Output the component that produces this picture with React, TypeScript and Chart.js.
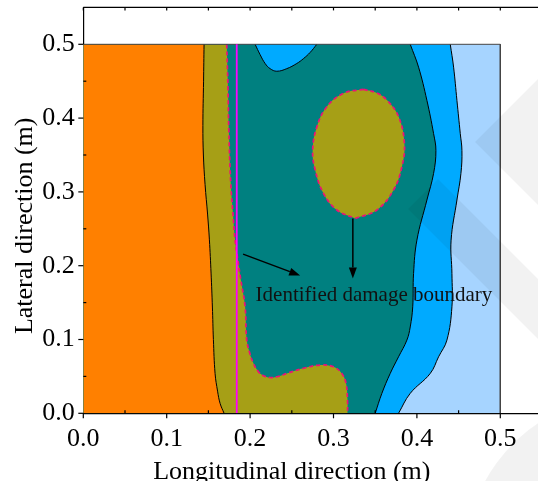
import React, { useEffect, useRef } from 'react';
import { Chart, registerables } from 'chart.js';

Chart.register(...registerables);

// ---------- data (x, y) in metres ----------
const AXIS_MAX = 0.55;
const X_TICKS = [0, 0.05, 0.1, 0.15, 0.2, 0.25, 0.3, 0.35, 0.4, 0.45, 0.5];
const Y_TICKS = [0, 0.05, 0.1, 0.15, 0.2, 0.25, 0.3, 0.35, 0.4, 0.45, 0.5];
const MAJOR_LABELS = ['0.0', '0.1', '0.2', '0.3', '0.4', '0.5'];

const X_TITLE = 'Longitudinal direction (m)';
const Y_TITLE = 'Lateral direction (m)';
const NOTE_TEXT = 'Identified damage boundary';
const NOTE_AT: [number, number] = [0.3485, 0.152];
const ARROWS: [number, number][][] = [
  [[0.1916, 0.2157], [0.26, 0.1867]],
  [[0.3232, 0.264], [0.3232, 0.1828]],
];

// plate outline (top and right edges)
const PLATE_EDGE: [number, number][] = [[0, 0.5], [0.5, 0.5], [0.5, 0]];

// orange / olive contour (top -> bottom)
const ORANGE_EDGE: [number, number][] = [
  [0.1448, 0.5], [0.1442, 0.45], [0.1434, 0.39], [0.144, 0.35], [0.146, 0.31],
  [0.149, 0.27], [0.1512, 0.235], [0.1532, 0.19], [0.1548, 0.144], [0.156, 0.1],
  [0.158, 0.054], [0.161, 0.03], [0.164, 0.0135], [0.1688, 0],
];

// identified damage boundary: olive / teal (top -> bottom)
const OLIVE_EDGE: [number, number][] = [
  [0.172, 0.5], [0.1735, 0.44], [0.1745, 0.3835], [0.1768, 0.312], [0.1795, 0.27],
  [0.182, 0.2346], [0.1856, 0.2057], [0.189, 0.18], [0.194, 0.1443], [0.196, 0.0993],
  [0.2, 0.08], [0.204, 0.0677], [0.21, 0.0563], [0.216, 0.051], [0.224, 0.0485],
  [0.234, 0.05], [0.244, 0.054], [0.264, 0.061], [0.284, 0.0654], [0.3, 0.063],
  [0.31, 0.054], [0.315, 0.0406], [0.3168, 0.018], [0.3168, 0],
];

// teal / bright blue contour (top -> bottom)
const TEAL_EDGE: [number, number][] = [
  [0.392, 0.5], [0.402, 0.469], [0.412, 0.424], [0.42, 0.379], [0.4228, 0.356],
  [0.42, 0.325], [0.412, 0.289], [0.4, 0.2346], [0.396, 0.1895], [0.395, 0.1443],
  [0.392, 0.117], [0.388, 0.0992], [0.378, 0.0766], [0.368, 0.054], [0.358, 0.027],
  [0.35, 0],
];

// bright blue / light blue contour (top -> bottom)
const BRIGHT_EDGE: [number, number][] = [
  [0.44, 0.5], [0.444, 0.469], [0.448, 0.424], [0.452, 0.379], [0.454, 0.356],
  [0.4528, 0.325], [0.448, 0.289], [0.441, 0.2346], [0.442, 0.1895], [0.442, 0.1443],
  [0.436, 0.0992], [0.426, 0.0766], [0.416, 0.054], [0.392, 0.027], [0.378, 0],
];

// bright blue notch at the top edge (left -> right)
const NOTCH_EDGE: [number, number][] = [
  [0.206, 0.5], [0.212, 0.486], [0.218, 0.474], [0.224, 0.467], [0.232, 0.4635],
  [0.244, 0.467], [0.256, 0.474], [0.264, 0.4806], [0.272, 0.489], [0.28, 0.5],
];

// elliptical damage zone, two halves (top -> bottom)
const ELLIPSE_RIGHT: [number, number][] = [
  [0.336, 0.439], [0.352, 0.434], [0.364, 0.4245], [0.378, 0.402], [0.385, 0.366],
  [0.382, 0.334], [0.372, 0.3026], [0.352, 0.2755], [0.326, 0.264],
];
const ELLIPSE_LEFT: [number, number][] = [
  [0.336, 0.439], [0.312, 0.4336], [0.292, 0.4155], [0.28, 0.388], [0.275, 0.3568],
  [0.278, 0.3297], [0.288, 0.298], [0.304, 0.2755], [0.326, 0.264],
];

// solid magenta reference line
const MAGENTA_LINE: [number, number][] = [[0.184, 0], [0.184, 0.5]];

// ---------- styles ----------
const FONT = '"Liberation Serif", "Times New Roman", Times, serif';
const ORANGE = '#FF8000';
const OLIVE = '#A69F16';
const TEAL = '#008080';
const BRIGHT = '#00AAFF';
const LIGHT = '#A6D4FF';
const PINK = '#EE1177';
const MAGENTA = '#FF00FF';

const pts = (a: [number, number][]) => a.map(([x, y]) => ({ x, y }));
const isMajor = (v: number) => Math.abs(v * 10 - Math.round(v * 10)) < 1e-6;

function drawArrow(ctx: CanvasRenderingContext2D, x1: number, y1: number, x2: number, y2: number) {
  const ang = Math.atan2(y2 - y1, x2 - x1);
  const len = 11;
  const hw = 4;
  const bx = x2 - len * Math.cos(ang);
  const by = y2 - len * Math.sin(ang);
  ctx.beginPath();
  ctx.moveTo(x1, y1);
  ctx.lineTo(bx, by);
  ctx.stroke();
  ctx.beginPath();
  ctx.moveTo(x2, y2);
  ctx.lineTo(bx + hw * Math.sin(ang), by - hw * Math.cos(ang));
  ctx.lineTo(bx - hw * Math.sin(ang), by + hw * Math.cos(ang));
  ctx.closePath();
  ctx.fill();
}

// faint background watermark (decoration only, canvas pixels)
function drawWatermark(ctx: CanvasRenderingContext2D) {
  ctx.save();
  ctx.fillStyle = 'rgba(0,0,0,0.05)';
  ctx.beginPath();
  ctx.moveTo(408, 209); ctx.lineTo(438, 179); ctx.lineTo(545, 286); ctx.lineTo(545, 346);
  ctx.closePath();
  ctx.fill();
  ctx.beginPath();
  ctx.moveTo(475, 142); ctx.lineTo(545, 72); ctx.lineTo(545, 212);
  ctx.closePath();
  ctx.fill();
  ctx.beginPath();
  ctx.arc(630, 560, 165, Math.PI * 1.02, Math.PI * 1.5);
  ctx.arc(630, 560, 120, Math.PI * 1.5, Math.PI * 1.02, true);
  ctx.closePath();
  ctx.fill();
  ctx.restore();
}

const decoPlugin = {
  id: 'deco',
  afterDraw(chart: any) {
    const { ctx, chartArea: a } = chart;
    const sx = chart.scales.x;
    const sy = chart.scales.y;
    drawWatermark(ctx);
    ctx.save();
    ctx.strokeStyle = '#000';
    ctx.fillStyle = '#000';
    ctx.lineWidth = 1.2;
    const yTop = sy.getPixelForValue(AXIS_MAX);
    const seg = (x1: number, y1: number, x2: number, y2: number) => {
      ctx.beginPath();
      ctx.moveTo(x1, y1);
      ctx.lineTo(x2, y2);
      ctx.stroke();
    };
    // top frame
    seg(a.left, yTop, sx.getPixelForValue(AXIS_MAX), yTop);
    // ticks
    X_TICKS.forEach((v) => {
      const px = sx.getPixelForValue(v);
      if (isMajor(v)) seg(px, a.bottom, px, a.bottom + 5);
      else seg(px, a.bottom, px, a.bottom - 3);
      seg(px, yTop, px, yTop + 3);
    });
    Y_TICKS.forEach((v) => {
      const py = sy.getPixelForValue(v);
      if (isMajor(v)) seg(a.left, py, a.left - 5, py);
      else seg(a.left, py, a.left + 3, py);
    });
    // arrows
    ctx.lineWidth = 1.5;
    ARROWS.forEach(([p, q]) => {
      drawArrow(ctx, sx.getPixelForValue(p[0]), sy.getPixelForValue(p[1]), sx.getPixelForValue(q[0]), sy.getPixelForValue(q[1]));
    });
    // annotation
    ctx.font = `21px ${FONT}`;
    ctx.fillStyle = '#111';
    ctx.textAlign = 'center';
    ctx.textBaseline = 'alphabetic';
    ctx.fillText(NOTE_TEXT, sx.getPixelForValue(NOTE_AT[0]), sy.getPixelForValue(NOTE_AT[1]));
    // axis titles
    ctx.fillStyle = '#000';
    ctx.font = `26px ${FONT}`;
    ctx.fillText(X_TITLE, sx.getPixelForValue(0.25), chart.height - 2.2);
    ctx.translate(31.7, sy.getPixelForValue(0.25) - 3);
    ctx.rotate(-Math.PI / 2);
    ctx.fillText(Y_TITLE, 0, 0);
    ctx.restore();
  },
};

const tickLabel = (v: any) => {
  const n = Number(v);
  return isMajor(n) ? MAJOR_LABELS[Math.round(n * 10)] : '';
};

export default function App() {
  const ref = useRef<HTMLCanvasElement>(null);
  useEffect(() => {
    const base = { pointRadius: 0, pointHoverRadius: 0, tension: 0.4, borderWidth: 1, borderColor: '#000' };
    const chart = new Chart(ref.current as HTMLCanvasElement, {
      type: 'line',
      data: {
        datasets: [
          { ...base, label: 'magenta', data: pts(MAGENTA_LINE), borderColor: MAGENTA, borderWidth: 1.8, tension: 0, fill: false, order: 0 },
          { ...base, label: 'plate', data: pts(PLATE_EDGE), borderColor: '#444', borderWidth: 1, tension: 0, fill: false, order: 1 },
          { ...base, label: 'ellipseR', data: pts(ELLIPSE_RIGHT), indexAxis: 'y', fill: '+1', backgroundColor: OLIVE, borderColor: PINK, borderDash: [4, 3], borderWidth: 1.7, order: 2 },
          { ...base, label: 'ellipseL', data: pts(ELLIPSE_LEFT), indexAxis: 'y', fill: false, borderColor: PINK, borderDash: [4, 3], borderWidth: 1.7, order: 1.9 },
          { ...base, label: 'orange', data: pts(ORANGE_EDGE), indexAxis: 'y', fill: { value: 0 }, backgroundColor: ORANGE, order: 3 },
          { ...base, label: 'olive', data: pts(OLIVE_EDGE), indexAxis: 'y', fill: { value: 0 }, backgroundColor: OLIVE, borderColor: PINK, borderDash: [4, 3], borderWidth: 1.7, order: 4 },
          { ...base, label: 'notch', data: pts(NOTCH_EDGE), fill: { value: 0.5 }, backgroundColor: BRIGHT, order: 5 },
          { ...base, label: 'teal', data: pts(TEAL_EDGE), indexAxis: 'y', fill: { value: 0 }, backgroundColor: TEAL, order: 6 },
          { ...base, label: 'bright', data: pts(BRIGHT_EDGE), indexAxis: 'y', fill: { value: 0 }, backgroundColor: BRIGHT, order: 7 },
          { ...base, label: 'light', data: pts(PLATE_EDGE), indexAxis: 'y', fill: { value: 0 }, backgroundColor: LIGHT, borderWidth: 0, tension: 0, order: 8 },
        ] as any,
      },
      options: {
        responsive: false,
        animation: false,
        devicePixelRatio: 1,
        events: [],
        layout: { padding: { top: 7.4, left: 0, right: 0, bottom: 0 } },
        plugins: { legend: { display: false }, tooltip: { enabled: false } },
        scales: {
          x: {
            type: 'linear',
            min: 0,
            max: AXIS_MAX,
            z: 1,
            afterBuildTicks: (s: any) => { s.ticks = X_TICKS.map((value) => ({ value })); },
            afterFit: (s: any) => { s.height = 67.7; s.paddingLeft = 0; s.paddingRight = 0; },
            grid: { display: false, drawTicks: true, tickLength: 5 },
            border: { display: true, color: '#000', width: 1.2 },
            ticks: { callback: tickLabel, color: '#000', font: { family: FONT, size: 26 }, padding: 5.6, maxRotation: 0, minRotation: 0, autoSkip: false },
          },
          y: {
            type: 'linear',
            min: 0,
            max: AXIS_MAX,
            z: 1,
            afterBuildTicks: (s: any) => { s.ticks = Y_TICKS.map((value) => ({ value })); },
            afterFit: (s: any) => { s.width = 83.3; s.paddingTop = 0; s.paddingBottom = 0; },
            grid: { display: false, drawTicks: true, tickLength: 5 },
            border: { display: true, color: '#000', width: 1.2 },
            ticks: { callback: tickLabel, color: '#000', font: { family: FONT, size: 26 }, padding: 3.5, autoSkip: false },
          },
        },
      } as any,
      plugins: [decoPlugin],
    });
    return () => chart.destroy();
  }, []);
  return (
    <div style={{ position: 'absolute', left: 0, top: 0, width: 538, height: 481, overflow: 'hidden', background: '#fff' }}>
      <canvas ref={ref} width={542} height={481} style={{ display: 'block', width: 542, height: 481 }} />
    </div>
  );
}
